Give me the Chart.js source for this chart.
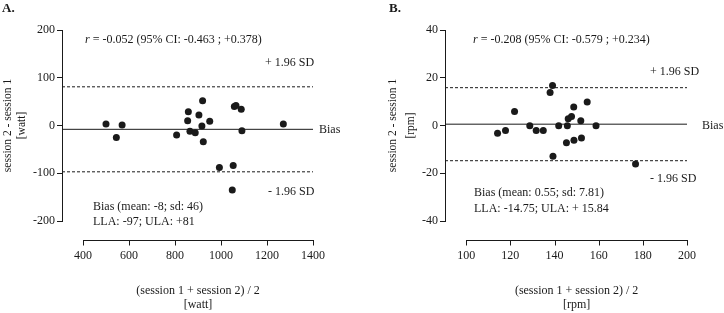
<!DOCTYPE html>
<html>
<head>
<meta charset="utf-8">
<script src="https://cdn.jsdelivr.net/npm/chart.js@4.4.0/dist/chart.umd.min.js"></script>
<style>
  html, body { margin: 0; padding: 0; background: #fff; }
  .panel { position: absolute; top: 0; width: 362px; height: 313px; }
  #panelA { left: 0; }
  #panelB { left: 362px; }
</style>
</head>
<body>
<div class="panel" id="panelA"><canvas id="chartA" width="362" height="313"></canvas></div>
<div class="panel" id="panelB"><canvas id="chartB" width="362" height="313"></canvas></div>
<script>
// Panel A - power (watt): mean of sessions vs difference
const meanA = [500, 545, 570, 807, 858, 855, 865, 888, 904, 920, 917, 923, 951, 993, 1053, 1049, 1058, 1065, 1088, 1091, 1271];
const diffA = [3, -25, 1, -20, 29, 10, -12, -15, 22, 52, -1, -34, 9, -88, -84, -135, 40, 42, 34, -11, 3];
const limitsA = [-8, 81, -97];   // bias, upper limit, lower limit
const xTicksA = [400, 600, 800, 1000, 1200, 1400];
const yTicksA = [-200, -100, 0, 100, 200];

// Panel B - cadence (rpm)
const meanB = [114.2, 117.8, 121.9, 128.8, 131.7, 134.9, 138, 139.1, 139.3, 141.9, 145.4, 145.8, 146.2, 147.7, 148.7, 148.8, 151.9, 152.2, 154.8, 158.8, 176.7];
const diffB = [-3.2, -2.1, 5.9, -0.1, -2.1, -2.1, 13.8, 16.8, -12.9, -0.1, -7.2, -0.1, 2.8, 3.8, 7.7, -6.2, 2, -5.2, 9.8, -0.1, -16.1];
const limitsB = [0.55, 15.84, -14.75];
const xTicksB = [100, 120, 140, 160, 180, 200];
const yTicksB = [-40, -20, 0, 20, 40];

const FONT = '"Liberation Serif", "Times New Roman", serif';
const INK = '#1a1a1a';

// Prism-style detached x axis, axis title and the text notes
const offsetAxis = {
    id: 'offsetAxis',
    afterDraw(chart, args, opts) {
        const { ctx, chartArea, scales: { x } } = chart;
        const y0 = Math.round(chartArea.bottom + opts.gap) + 0.5;
        const first = x.getPixelForValue(opts.ticks[0]);
        const last = x.getPixelForValue(opts.ticks[opts.ticks.length - 1]);
        ctx.save();
        ctx.strokeStyle = INK;
        ctx.lineWidth = 1;
        ctx.beginPath();
        ctx.moveTo(Math.round(first), y0);
        ctx.lineTo(Math.round(last) + 1, y0);
        opts.ticks.forEach(v => {
            const px = Math.round(x.getPixelForValue(v)) + 0.5;
            ctx.moveTo(px, y0);
            ctx.lineTo(px, y0 + 5);
        });
        ctx.stroke();

        ctx.fillStyle = INK;
        ctx.font = '12px ' + FONT;
        ctx.textAlign = 'center';
        ctx.textBaseline = 'middle';
        const cx = (first + last) / 2;
        opts.title.forEach((t, i) => ctx.fillText(t, cx, opts.titleY + i * 14));

        // panel letter
        ctx.font = 'bold 13px ' + FONT;
        ctx.textAlign = 'left';
        ctx.fillText(opts.letter.text, opts.letter.x, opts.letter.y);

        // notes; an optional italic lead (the "r")
        opts.notes.forEach(n => {
            let px = n.x;
            if (n.lead) {
                ctx.font = 'italic 12px ' + FONT;
                ctx.fillText(n.lead, px, n.y);
                px += ctx.measureText(n.lead).width;
            }
            ctx.font = '12px ' + FONT;
            ctx.fillText(n.text, px, n.y);
        });
        ctx.restore();
    }
};

function makePanel(canvasId, p) {
    const points = p.xs.map((v, i) => ({ x: v, y: p.ys[i] }));
    const hline = (v) => [{ x: p.xMin, y: v }, { x: p.xMax, y: v }];

    return new Chart(document.getElementById(canvasId), {
        type: 'scatter',
        plugins: [offsetAxis],
        data: {
            datasets: [
                { data: points, pointRadius: 3.5, pointBackgroundColor: INK, pointBorderWidth: 0 },
                { type: 'line', data: hline(p.limits[0]), borderColor: INK, borderWidth: 1, pointRadius: 0 },
                { type: 'line', data: hline(p.limits[1]), borderColor: INK, borderWidth: 1, borderDash: [3, 2], pointRadius: 0 },
                { type: 'line', data: hline(p.limits[2]), borderColor: INK, borderWidth: 1, borderDash: [3, 2], pointRadius: 0 }
            ]
        },
        options: {
            responsive: false,
            animation: false,
            layout: { padding: { top: 30, right: p.padRight, left: 0, bottom: 0 } },
            scales: {
                x: {
                    type: 'linear',
                    min: p.xMin,
                    max: p.xMax,
                    afterBuildTicks: s => { s.ticks = p.xTicks.map(v => ({ value: v })); },
                    afterFit: s => { s.height = 92; },
                    grid: { display: false, drawTicks: false },
                    border: { display: false },
                    ticks: {
                        padding: 28, autoSkip: false, maxRotation: 0, color: INK,
                        font: { family: FONT, size: 12 },
                        callback: v => String(v)
                    }
                },
                y: {
                    min: p.yTicks[0],
                    max: p.yTicks[p.yTicks.length - 1],
                    afterBuildTicks: s => { s.ticks = p.yTicks.map(v => ({ value: v })); },
                    afterFit: s => { s.width = p.yWidth; },
                    grid: { display: true, drawOnChartArea: false, drawTicks: true, tickLength: 5, color: INK, lineWidth: 1 },
                    border: { display: true, color: INK, width: 1 },
                    ticks: { padding: 2, color: INK, font: { family: FONT, size: 12 }, callback: v => String(v) },
                    title: {
                        display: true,
                        text: ['session 2 - session 1', p.unit],
                        color: INK,
                        padding: { top: p.yTitlePad, bottom: 0 },
                        font: { family: FONT, size: 11.5, lineHeight: p.yTitleLine }
                    }
                }
            },
            plugins: {
                legend: { display: false },
                tooltip: { enabled: false },
                offsetAxis: {
                    gap: 19,
                    ticks: p.xTicks,
                    title: ['(session 1 + session 2) / 2', p.unit],
                    titleY: 291,
                    letter: p.letter,
                    notes: p.notes
                }
            }
        }
    });
}

makePanel('chartA', {
    xs: meanA, ys: diffA, limits: limitsA, xTicks: xTicksA, yTicks: yTicksA,
    xMin: 308.7, xMax: 1400, unit: '[watt]',
    yWidth: 62, padRight: 49, yTitlePad: 1, yTitleLine: 1.22,
    letter: { text: 'A.', x: 2, y: 9 },
    notes: [
        { lead: 'r', text: ' = -0.052 (95% CI: -0.463 ; +0.378)', x: 85, y: 40 },
        { text: '+ 1.96 SD', x: 265, y: 63 },
        { text: 'Bias', x: 319, y: 130 },
        { text: '- 1.96 SD', x: 268, y: 192 },
        { text: 'Bias (mean: -8; sd: 46)', x: 93, y: 207 },
        { text: 'LLA: -97; ULA: +81', x: 93, y: 222 }
    ]
});

makePanel('chartB', {
    xs: meanB, ys: diffB, limits: limitsB, xTicks: xTicksB, yTicks: yTicksB,
    xMin: 90.4, xMax: 200, unit: '[rpm]',
    yWidth: 83, padRight: 27, yTitlePad: 22, yTitleLine: 1.56,
    letter: { text: 'B.', x: 27, y: 9 },
    notes: [
        { lead: 'r', text: ' = -0.208 (95% CI: -0.579 ; +0.234)', x: 111, y: 40 },
        { text: '+ 1.96 SD', x: 288, y: 72 },
        { text: 'Bias', x: 340, y: 126 },
        { text: '- 1.96 SD', x: 288, y: 179 },
        { text: 'Bias (mean: 0.55; sd: 7.81)', x: 112, y: 193 },
        { text: 'LLA: -14.75; ULA: + 15.84', x: 112, y: 209 }
    ]
});
</script>
</body>
</html>
